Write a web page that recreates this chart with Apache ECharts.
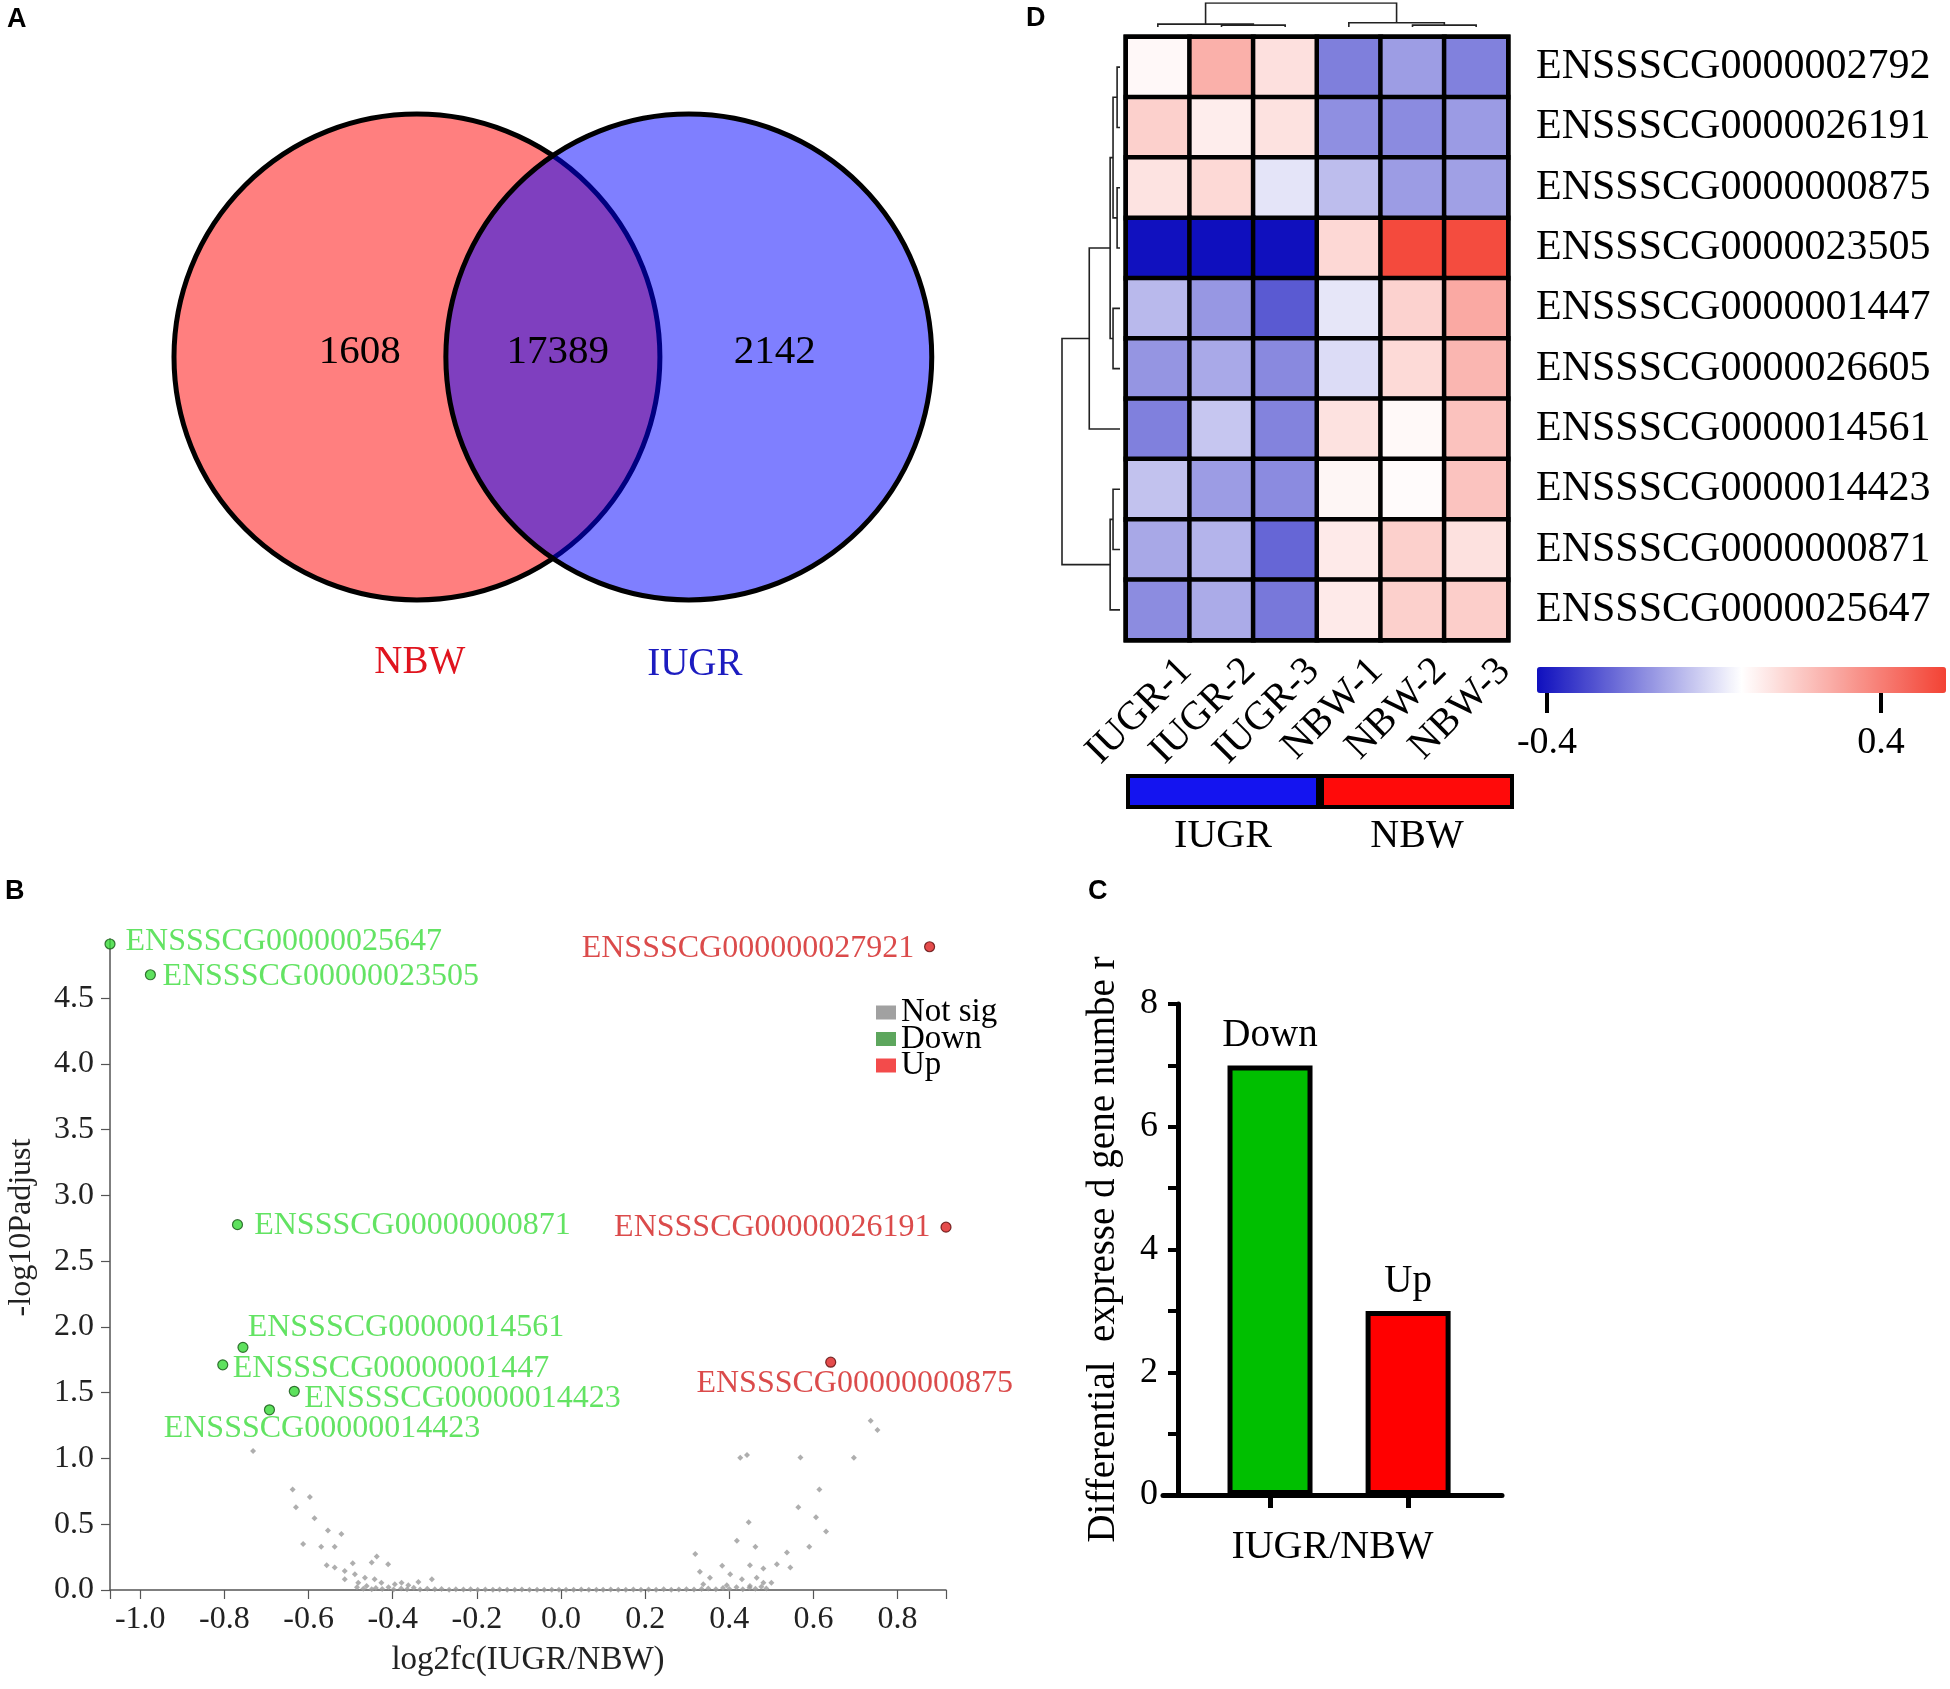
<!DOCTYPE html>
<html><head><meta charset="utf-8">
<script src="https://cdn.jsdelivr.net/npm/echarts@6/dist/echarts.min.js"></script>
<style>html,body{margin:0;padding:0;background:#fff}#c{width:1950px;height:1689px}</style>
</head><body><div id="c"></div><script>
// ================= DATA =================
// Panel A: Venn
const vennSets = ['NBW', 'IUGR'];
const vennCounts = [1608, 17389, 2142]; // NBW only, shared, IUGR only

// Panel B: volcano
const downGenes = ['ENSSSCG00000025647','ENSSSCG00000023505','ENSSSCG00000000871','ENSSSCG00000014561','ENSSSCG00000001447','ENSSSCG00000014423','ENSSSCG00000014423'];
const downLog2fc = [-1.072, -0.976, -0.769, -0.756, -0.804, -0.634, -0.693];
const downNegLogP = [4.912, 4.678, 2.778, 1.845, 1.712, 1.511, 1.370];
const upGenes = ['ENSSSCG000000027921','ENSSSCG00000026191','ENSSSCG00000000875'];
const upLog2fc = [0.876, 0.915, 0.641];
const upNegLogP = [4.891, 2.759, 1.732];
const notSigPoints = [
  [-0.732,1.056],[-0.638,0.765],[-0.597,0.707],[-0.630,0.630],[-0.586,0.546],[-0.554,0.452],[-0.522,0.426],
  [-0.613,0.349],[-0.570,0.329],[-0.538,0.329],[-0.438,0.255],[-0.557,0.189],[-0.538,0.171],[-0.495,0.204],
  [-0.450,0.209],[-0.411,0.196],[-0.514,0.145],[-0.490,0.120],[-0.514,0.082],[-0.466,0.094],[-0.443,0.082],
  [-0.482,0.056],[-0.427,0.056],[-0.379,0.056],[-0.339,0.061],[-0.307,0.082],[-0.395,0.043],[-0.363,0.036],
  [0.736,1.286],[0.752,1.217],[0.426,1.005],[0.442,1.026],[0.569,1.008],[0.696,1.005],[0.614,0.765],
  [0.564,0.630],[0.606,0.554],[0.446,0.515],[0.630,0.444],[0.418,0.375],[0.462,0.329],[0.590,0.329],
  [0.319,0.273],[0.537,0.286],[0.513,0.196],[0.545,0.171],[0.449,0.189],[0.481,0.163],[0.330,0.138],
  [0.383,0.184],[0.402,0.120],[0.354,0.094],[0.430,0.082],[0.465,0.094],[0.500,0.056],[0.338,0.043],
  [0.394,0.036],[0.449,0.031],[0.481,0.056],
  [-0.485,0.02],[-0.47,0.01],[-0.462,0.03],[-0.45,0.005],[-0.44,0.015],[-0.425,0.008],[-0.41,0.02],
  [-0.398,0.004],[-0.38,0.012],[-0.366,0.006],[-0.35,0.018],[-0.335,0.003],[-0.318,0.01],[-0.3,0.005],
  [-0.284,0.008],[-0.266,0.002],[-0.25,0.006],[-0.232,0.003],[-0.215,0.005],[-0.198,0.002],[-0.18,0.004],
  [-0.162,0.001],[-0.146,0.003],[-0.128,0.002],[-0.11,0.001],[-0.093,0.003],[-0.075,0.001],[-0.057,0.002],
  [-0.04,0.001],[-0.022,0.002],[-0.005,0.001],[0.012,0.002],[0.03,0.001],[0.048,0.003],[0.066,0.001],
  [0.084,0.002],[0.1,0.001],[0.118,0.003],[0.136,0.002],[0.154,0.001],[0.172,0.004],[0.19,0.002],
  [0.208,0.003],[0.226,0.001],[0.244,0.005],[0.262,0.002],[0.28,0.004],[0.298,0.006],[0.316,0.003],
  [0.334,0.008],[0.35,0.012],[0.368,0.005],[0.385,0.015],[0.4,0.008],[0.417,0.02],[0.432,0.006],
  [0.448,0.018],[0.462,0.01],[0.476,0.025],[0.488,0.012]
];
const volcanoXTicks = [-1.0,-0.8,-0.6,-0.4,-0.2,0.0,0.2,0.4,0.6,0.8];
const volcanoYTicks = [0,0.5,1.0,1.5,2.0,2.5,3.0,3.5,4.0,4.5];

// Panel C: bar
const barCategories = ['Down','Up'];
const barValues = [7, 3];
const barYLabels = [0,2,4,6,8];

// Panel D: heatmap
const sampleNames = ['IUGR-1','IUGR-2','IUGR-3','NBW-1','NBW-2','NBW-3'];
const groupNames = ['IUGR','NBW'];
const heatGenes = ['ENSSSCG0000002792','ENSSSCG0000026191','ENSSSCG0000000875','ENSSSCG0000023505','ENSSSCG0000001447',
  'ENSSSCG0000026605','ENSSSCG0000014561','ENSSSCG0000014423','ENSSSCG0000000871','ENSSSCG0000025647'];
const heatValues = [
  [0.084, 0.271, 0.146, -0.195, -0.134, -0.191],
  [0.188, 0.113, 0.141, -0.163, -0.171, -0.138],
  [0.139, 0.164, 0.011, -0.069, -0.136, -0.128],
  [-0.420, -0.424, -0.422, 0.167, 0.535, 0.530],
  [-0.077, -0.146, -0.271, 0.015, 0.183, 0.289],
  [-0.150, -0.110, -0.175, -0.005, 0.162, 0.255],
  [-0.193, -0.050, -0.187, 0.141, 0.082, 0.224],
  [-0.059, -0.136, -0.171, 0.089, 0.076, 0.221],
  [-0.112, -0.087, -0.246, 0.120, 0.188, 0.144],
  [-0.169, -0.106, -0.210, 0.120, 0.188, 0.193]
];
const colorbarTicks = [-0.4, 0.4];
const colorRange = [-0.424, 0.556];
// dendrograms: [childA, childB, height]; 'nK' refers to merge K
const rowTree = [[0,1,0.05],[2,3,0.05],['n0','n1',0.12],[4,5,0.12],['n2','n3',0.17],['n4',6,0.53],[7,8,0.12],['n6',9,0.17],['n5','n7',1.0]];
const colTree = [[1,2,0.08],[0,'n0',0.12],[4,5,0.08],[3,'n2',0.18],['n1','n3',1.0]];

// ================= LAYOUT / STYLE =================
const F = "'Liberation Serif','Times New Roman',serif";
const vennCircles = [[0,0,1],[1.119,0,1]];
const vennFill = ['rgba(255,0,0,0.5)','rgba(0,0,255,0.5)'];
const vennCountPos = [[-0.235,0.02],[0.58,0.02],[1.473,0.02]];
const vennNamePos = [[0.012,-1.26],[1.144,-1.267]];
const vennNameColor = ['#E0141E','#1C1CC0'];
const downLabelPos = [[15.5,-2.6,'left'],[12,2,'left'],[16.7,1,'left'],[4.7,-19.6,'left'],[10,3.7,'left'],[10,7,'left'],[52.5,18.5,'center']];
const upLabelPos = [[-15.4,1.5,'right'],[-15.4,0,'right'],[24,21,'center']];
const barColors = ['#00BF00','#FF0000'];
const groupColors = ['#1414F0','#FF0A0A'];
const colLabelShift = [28, 25]; // px from cell centre / heatmap bottom

function dendro(tree, rowMode) {
  const pos = [], ht = [], segs = [];
  const get = c => typeof c === 'number' ? [c, 0] : [pos[+c.slice(1)], ht[+c.slice(1)]];
  tree.forEach(([a, b, h], k) => {
    const [pa, ha] = get(a), [pb, hb] = get(b);
    pos[k] = (pa + pb) / 2; ht[k] = h;
    const pts = [[pa, ha], [pa, h], [pb, h], [pb, hb]];
    segs.push({coords: rowMode ? pts.map(p => [p[1], p[0]]) : pts});
  });
  return segs;
}

const heatData = [];
heatValues.forEach((row, r) => row.forEach((v, c) => heatData.push([c, r, v])));

const series = [
  { type: 'custom', coordinateSystem: 'cartesian2d', xAxisIndex: 0, yAxisIndex: 0, silent: true,
    data: vennCircles,
    renderItem: (p, api) => {
      const c = api.coord([api.value(0), api.value(1)]);
      const s = api.size([api.value(2), api.value(2)]);
      return {type: 'circle', shape: {cx: c[0], cy: c[1], r: s[0]}, style: {fill: vennFill[p.dataIndex], stroke: '#000', lineWidth: 5}};
    }},
  { type: 'custom', coordinateSystem: 'cartesian2d', xAxisIndex: 0, yAxisIndex: 0, silent: true,
    data: vennCountPos.concat(vennNamePos),
    renderItem: (p, api) => {
      const i = p.dataIndex;
      const c = api.coord([api.value(0), api.value(1)]);
      const isCount = i < vennCounts.length;
      return {type: 'text', x: c[0], y: c[1], style: {
        text: isCount ? String(vennCounts[i]) : vennSets[i - vennCounts.length],
        fill: isCount ? '#000' : vennNameColor[i - vennCounts.length],
        font: (isCount ? 41 : 39) + "px 'Liberation Serif'", align: 'center', verticalAlign: 'middle'}};
    }},
  { name: 'Not sig', type: 'scatter', xAxisIndex: 1, yAxisIndex: 1, symbol: 'diamond', symbolSize: 6,
    itemStyle: {color: '#9a9a9a'}, data: notSigPoints, silent: true, z: 2},
  { name: 'Down', type: 'scatter', xAxisIndex: 1, yAxisIndex: 1, symbolSize: 10, z: 3,
    itemStyle: {color: '#36D936', borderColor: '#145214', borderWidth: 1.2},
    label: {show: true, position: 'inside', formatter: '{b}', fontFamily: F, fontSize: 32, color: '#3CDC3C', verticalAlign: 'middle'},
    data: downGenes.map((g, i) => ({name: g, value: [downLog2fc[i], downNegLogP[i]],
      label: {offset: [downLabelPos[i][0], downLabelPos[i][1]], align: downLabelPos[i][2]}}))},
  { name: 'Up', type: 'scatter', xAxisIndex: 1, yAxisIndex: 1, symbolSize: 10, z: 3,
    itemStyle: {color: '#DD1F1F', borderColor: '#5a0a0a', borderWidth: 1.2},
    label: {show: true, position: 'inside', formatter: '{b}', fontFamily: F, fontSize: 32, color: '#D21E1E', verticalAlign: 'middle'},
    data: upGenes.map((g, i) => ({name: g, value: [upLog2fc[i], upNegLogP[i]],
      label: {offset: [upLabelPos[i][0], upLabelPos[i][1]], align: upLabelPos[i][2]}}))},
  { type: 'bar', xAxisIndex: 2, yAxisIndex: 2, barWidth: 85, silent: true,
    itemStyle: {borderColor: '#000', borderWidth: 5},
    label: {show: true, position: 'top', formatter: '{b}', fontFamily: F, fontSize: 39, color: '#000', distance: 10},
    data: barCategories.map((n, i) => ({name: n, value: [i + 1, barValues[i]], itemStyle: {color: barColors[i]}}))},
  { type: 'heatmap', xAxisIndex: 3, yAxisIndex: 3, data: heatData, silent: true,
    itemStyle: {borderColor: '#000', borderWidth: 4.5}},
  { type: 'custom', coordinateSystem: 'cartesian2d', xAxisIndex: 3, yAxisIndex: 3, silent: true, clip: false,
    data: sampleNames.map((n, i) => [i, heatGenes.length - 1]),
    renderItem: (p, api) => {
      const c = api.coord([api.value(0), api.value(1)]);
      const h = api.size([1, 1])[1];
      return {type: 'text', x: c[0] + colLabelShift[0], y: c[1] + h / 2 + colLabelShift[1], rotation: Math.PI / 4,
        style: {text: sampleNames[p.dataIndex], font: "40px 'Liberation Serif'", fill: '#000', align: 'right', verticalAlign: 'middle'}};
    }},
  { type: 'lines', coordinateSystem: 'cartesian2d', xAxisIndex: 4, yAxisIndex: 4, polyline: true, silent: true,
    lineStyle: {color: '#222', width: 1.6, opacity: 1}, data: dendro(rowTree, true)},
  { type: 'lines', coordinateSystem: 'cartesian2d', xAxisIndex: 5, yAxisIndex: 5, polyline: true, silent: true,
    lineStyle: {color: '#222', width: 1.6, opacity: 1}, data: dendro(colTree, false)},
  { type: 'bar', xAxisIndex: 7, yAxisIndex: 7, barWidth: '100%', barCategoryGap: '0%', silent: true,
    itemStyle: {borderColor: '#000', borderWidth: 4},
    data: groupNames.map((g, i) => ({name: g, value: 1, itemStyle: {color: groupColors[i]}}))}
];
const heatIdx = series.findIndex(s => s.type === 'heatmap');

const titleStyle = {fontFamily: "'Liberation Sans',Arial,sans-serif", fontWeight: 'bold', fontSize: 27, color: '#000'};
const option = {
  animation: false,
  backgroundColor: '#fff',
  title: [
    {text: 'A', left: 7, top: 6, padding: 0, textStyle: titleStyle},
    {text: 'B', left: 5, top: 878, padding: 0, textStyle: titleStyle},
    {text: 'C', left: 1088, top: 878, padding: 0, textStyle: titleStyle},
    {text: 'D', left: 1026, top: 5, padding: 0, textStyle: titleStyle}
  ],
  legend: {
    data: [{name: 'Not sig', itemStyle: {color: '#8a8a8a', borderWidth: 0}},
           {name: 'Down', itemStyle: {color: '#359035', borderWidth: 0}},
           {name: 'Up', itemStyle: {color: '#F01E1E', borderWidth: 0}}],
    left: 876, top: 996, orient: 'vertical', icon: 'rect', itemWidth: 20, itemHeight: 14, itemGap: -6.5, padding: 0,
    selectedMode: false,
    textStyle: {fontFamily: F, fontSize: 33, color: '#000', lineHeight: 26}
  },
  visualMap: {
    type: 'continuous', seriesIndex: heatIdx, min: colorRange[0], max: colorRange[1],
    inRange: {color: ['#0F0FBE', '#FFFFFF', '#F34234']},
    orient: 'horizontal', left: 1537, top: 667, itemWidth: 26, itemHeight: 409,
    calculable: false, hoverLink: false, padding: 0, text: null, showLabel: false
  },
  grid: [
    {left: 174, top: 114, width: 758, height: 486},
    {left: 110, top: 939, width: 836, height: 651},
    {left: 1163, top: 1004, width: 339, height: 491},
    {left: 1126, top: 37, width: 382, height: 603, show: true, borderColor: '#000', borderWidth: 5, backgroundColor: 'transparent'},
    {left: 1062, top: 37, width: 58, height: 603},
    {left: 1126, top: 3, width: 382, height: 24},
    {left: 1537, top: 667, width: 409, height: 26},
    {left: 1126, top: 774, width: 388, height: 35}
  ],
  xAxis: [
    {gridIndex: 0, type: 'value', min: -1, max: 2.12, show: false},
    {gridIndex: 1, type: 'value', min: -1.072, max: 0.915,
      axisLine: {onZero: false, lineStyle: {color: '#555', width: 1.5}},
      axisTick: {customValues: [-1.072].concat(volcanoXTicks, [0.915]), length: 9, lineStyle: {color: '#555', width: 1.2}},
      axisLabel: {customValues: volcanoXTicks, formatter: v => v.toFixed(1), fontFamily: F, fontSize: 32, color: '#222', margin: 14},
      splitLine: {show: false},
      name: 'log2fc(IUGR/NBW)', nameLocation: 'middle', nameGap: 54,
      nameTextStyle: {fontFamily: F, fontSize: 33, color: '#222'}},
    {gridIndex: 2, type: 'value', min: 0.225, max: 2.68,
      axisLine: {onZero: false, lineStyle: {color: '#000', width: 5}},
      axisTick: {customValues: [1, 2], length: 13, lineStyle: {color: '#000', width: 5}},
      axisLabel: {show: false}, splitLine: {show: false},
      name: 'IUGR/NBW', nameLocation: 'middle', nameGap: 32,
      nameTextStyle: {fontFamily: F, fontSize: 40, color: '#000'}},
    {gridIndex: 3, type: 'category', data: sampleNames, position: 'bottom',
      axisLine: {show: false}, axisTick: {show: false}, splitLine: {show: false}, axisLabel: {show: false}},
    {gridIndex: 4, type: 'value', min: 0, max: 1, inverse: true, show: false},
    {gridIndex: 5, type: 'value', min: -0.5, max: 5.5, show: false},
    {gridIndex: 6, type: 'value', min: colorRange[0], max: colorRange[1],
      axisLine: {show: false}, splitLine: {show: false},
      axisTick: {customValues: colorbarTicks, length: 20, lineStyle: {color: '#000', width: 4}},
      axisLabel: {customValues: colorbarTicks, formatter: v => v.toFixed(1), fontFamily: F, fontSize: 38, color: '#000', margin: 31}},
    {gridIndex: 7, type: 'category', data: groupNames,
      axisLine: {show: false}, axisTick: {show: false},
      axisLabel: {fontFamily: F, fontSize: 40, color: '#000', margin: 7}}
  ],
  yAxis: [
    {gridIndex: 0, type: 'value', min: -1, max: 1, show: false},
    {gridIndex: 1, type: 'value', min: 0, max: 4.95,
      axisLine: {show: true, onZero: false, lineStyle: {color: '#555', width: 1.5}},
      axisTick: {show: true, customValues: volcanoYTicks, length: 9, lineStyle: {color: '#555', width: 1.2}},
      axisLabel: {customValues: volcanoYTicks, formatter: v => v.toFixed(1), fontFamily: F, fontSize: 32, color: '#222', margin: 16},
      splitLine: {show: false},
      name: '-log10Padjust', nameLocation: 'middle', nameGap: 72,
      nameTextStyle: {fontFamily: F, fontSize: 32, color: '#222', padding: [0, 0, 0, 74]}},
    {gridIndex: 2, type: 'value', min: 0, max: 8, interval: 1, offset: -15,
      axisLine: {show: true, onZero: false, lineStyle: {color: '#000', width: 5}},
      axisTick: {show: true, length: 10, lineStyle: {color: '#000', width: 4}},
      axisLabel: {customValues: barYLabels, fontFamily: F, fontSize: 36, color: '#000', margin: 20},
      splitLine: {show: false},
      name: 'Differential  expresse d gene numbe r', nameLocation: 'middle', nameGap: 55,
      nameTextStyle: {fontFamily: F, fontSize: 39, color: '#000'}},
    {gridIndex: 3, type: 'category', data: heatGenes, inverse: true, position: 'right',
      axisLine: {show: false}, axisTick: {show: false}, splitLine: {show: false},
      axisLabel: {fontFamily: F, fontSize: 42, color: '#000', margin: 28, interval: 0}},
    {gridIndex: 4, type: 'value', min: -0.5, max: 9.5, inverse: true, show: false},
    {gridIndex: 5, type: 'value', min: 0, max: 1, show: false},
    {gridIndex: 6, type: 'value', show: false},
    {gridIndex: 7, type: 'value', min: 0, max: 1, show: false}
  ],
  series: series
};
const chart = echarts.init(document.getElementById('c'), null, {renderer: 'canvas'});
chart.setOption(option);
</script></body></html>
